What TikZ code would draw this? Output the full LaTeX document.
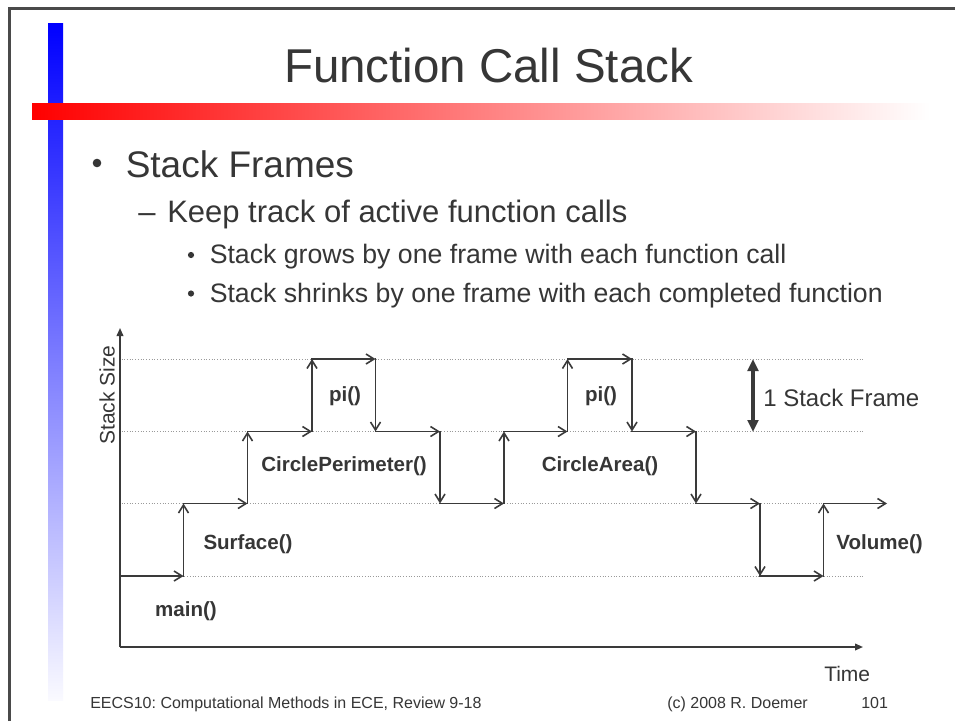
\documentclass[tikz,border=0pt]{standalone}
\usepackage{fontspec}
\setmainfont{Liberation Sans}
\usetikzlibrary{arrows.meta}
\definecolor{ink}{HTML}{363636}
\definecolor{lineink}{HTML}{3A3A3A}
\definecolor{framegray}{HTML}{4A4A4A}
\definecolor{gridgray}{HTML}{9A9A9A}
\frenchspacing
\begin{document}
\begin{tikzpicture}[x=0.75pt,y=-0.75pt,
  txt/.style={inner sep=0pt, text=ink},
  lbl/.style={txt, font=\fontsize{15.4}{18}\selectfont\bfseries},
  stepline/.style={draw=lineink, line width=1.3pt, line cap=rect, -{Straight Barb[length=6pt,width=7.5pt,line width=1.2pt]}},
  axisline/.style={draw=lineink, line width=1.2pt, -{Triangle[length=6pt,width=5pt]}},
  gridline/.style={draw=gridgray, line width=0.6pt, dash pattern=on 0.75pt off 1.3pt},
  framearrow/.style={draw=lineink, line width=2.4pt, {Triangle[length=9pt,width=8pt]}-{Triangle[length=9pt,width=8pt]}}
]
\useasboundingbox (0,0) rectangle (955,721);
\fill[white] (0,0) rectangle (955,721);

% slide frame
\draw[framegray, line width=2.2pt] (9.5,721) -- (9.5,8.5) -- (955,8.5);

% blue vertical bar
\shade[top color=blue, bottom color=blue!2] (48,23) rectangle (63,700);
% red horizontal bar
\shade[left color=red, right color=white] (32,103.5) rectangle (930,119);

% title
\node[txt, anchor=base, font=\fontsize{35.6}{40}\selectfont] (title) at (488.5,82) {Function Call Stack};

% bullet text
\fill[ink] (97,163) circle (4.3);
\node[txt, anchor=base west, font=\fontsize{27.75}{32}\selectfont] (b1) at (125.5,177) {Stack Frames};
\node[txt, anchor=base west, font=\fontsize{23.25}{28}\selectfont] (dash) at (138,222) {–};
\node[txt, anchor=base west, font=\fontsize{23.25}{28}\selectfont] (b2) at (167,222) {Keep track of active function calls};
\fill[ink] (191,255) circle (3.1);
\node[txt, anchor=base west, font=\fontsize{20}{24}\selectfont] (b3) at (209.5,263) {Stack grows by one frame with each function call};
\fill[ink] (191,293.5) circle (3.1);
\node[txt, anchor=base west, font=\fontsize{20}{24}\selectfont] (b4) at (209.5,302) {Stack shrinks by one frame with each completed function};

% grid lines
\foreach \n/\yy in {0/576,1/503.5,2/431.5,3/359} {
  \coordinate (ga\n) at (121.5,\yy);
  \coordinate (gb\n) at (864,\yy);
  \draw[gridline] (ga\n) -- (gb\n);
}

% axes
\coordinate (o) at (120,647);
\coordinate (ytop) at (120,328);
\coordinate (xend) at (863,647);
\draw[axisline] (o) -- (ytop);
\draw[axisline] (o) -- (xend);
\node[txt, rotate=90, font=\fontsize{15.75}{18}\selectfont] (ylab) at (107,395) {Stack Size};
\node[txt, anchor=base west, font=\fontsize{15.75}{18}\selectfont] (xlab) at (824,681) {Time};

% step path
\coordinate (p0) at (120,576);
\coordinate (p1) at (183.5,576);
\coordinate (p2) at (183.5,503.5);
\coordinate (p3) at (247.5,503.5);
\coordinate (p4) at (247.5,431.5);
\coordinate (p5) at (312,431.5);
\coordinate (p6) at (312,359);
\coordinate (p7) at (375.5,359);
\coordinate (p8) at (375.5,431.5);
\coordinate (p9) at (440,431.5);
\coordinate (p10) at (440,503.5);
\coordinate (p11) at (504,503.5);
\coordinate (p12) at (504,431.5);
\coordinate (p13) at (567.5,431.5);
\coordinate (p14) at (567.5,359);
\coordinate (p15) at (632,359);
\coordinate (p16) at (632,431.5);
\coordinate (p17) at (696,431.5);
\coordinate (p18) at (696,503.5);
\coordinate (p19) at (760,503.5);
\coordinate (p20) at (760,576);
\coordinate (p21) at (823.5,576);
\coordinate (p22) at (823.5,503.5);
\coordinate (p23) at (887,503.5);
\foreach \i in {0,...,22} {
  \pgfmathtruncatemacro\j{\i+1}
  \draw[stepline] (p\i) -- (p\j);
}

% function labels
\node[lbl] (lmain) at (186,611) {main()};
\node[lbl] (lsurf) at (248,544) {Surface()};
\node[lbl] (lcp) at (344,466) {CirclePerimeter()};
\node[lbl] (lpi1) at (345,396) {pi()};
\node[lbl] (lca) at (600,466) {CircleArea()};
\node[lbl] (lpi2) at (601,396) {pi()};
\node[lbl] (lvol) at (879.5,544) {Volume()};

% one stack frame marker
\coordinate (fa) at (753,359);
\coordinate (fb) at (753,432);
\draw[framearrow] (fa) -- (fb);
\node[txt, anchor=base west, font=\fontsize{18}{21}\selectfont] (lframe) at (763,406) {1 Stack Frame};

% footer
\node[txt, anchor=base west, font=\fontsize{12}{14}\selectfont] (foot1) at (90,708) {EECS10: Computational Methods in ECE, Review 9-18};
\node[txt, anchor=base west, font=\fontsize{12}{14}\selectfont] (foot2) at (667,708) {(c) 2008 R. Doemer};
\node[txt, anchor=base west, font=\fontsize{12}{14}\selectfont] (foot3) at (861,708) {101};
\end{tikzpicture}
\end{document}
